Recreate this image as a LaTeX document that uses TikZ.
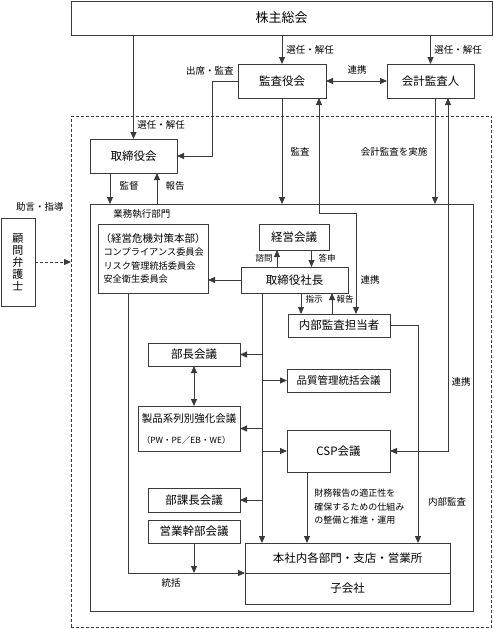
\documentclass[tikz,border=0pt]{standalone}
\usepackage{fontspec}
\setmainfont{Noto Sans CJK JP}
\usetikzlibrary{arrows.meta}
\definecolor{Line}{HTML}{3A3A3A}

\begin{document}
\begin{tikzpicture}[x=1pt,y=-1pt,line width=0.9pt,
        box/.style={draw=Line, inner sep=0pt, outer sep=0pt, align=center, font=\fontsize{11.5}{14}\selectfont},
        lbl/.style={inner sep=0pt, font=\fontsize{9.5}{12}\selectfont},
        arr/.style={draw=Line, -{Triangle[length=7pt,width=6pt]}},
        biarr/.style={draw=Line, {Triangle[length=7pt,width=6pt]}-{Triangle[length=7pt,width=6pt]}}]
        \useasboundingbox (0,0) rectangle (493,629);
        % frames
        \node[draw=Line, dash pattern=on 3pt off 2pt, minimum width=420.5, minimum height=511.5, outer sep=0pt] (grp) at (281.25,371.75) {};
        \node[draw=Line, minimum width=383, minimum height=407, outer sep=0pt] (gyomu) at (281.5,407.5) {};
        \node[lbl, anchor=west] (gyomulbl) at (113,214) {業務執行部門};
        % boxes
        \node[box, minimum width=421, minimum height=34, font=\fontsize{13}{15}\selectfont] (soukai) at (281.5,18) {株主総会};
        \node[box, minimum width=88, minimum height=34] (kansayaku) at (282,81) {監査役会};
        \node[box, minimum width=87, minimum height=34] (kaikei) at (430.5,81) {会計監査人};
        \node[box, minimum width=87, minimum height=34] (torishimari) at (133.5,156) {取締役会};
        \node[box, minimum width=34, minimum height=88, font=\fontsize{11}{12}\selectfont] (komon) at (18,262) {顧\\問\\弁\\護\\士};
        \node[box, minimum width=110, minimum height=69, align=left, font=\fontsize{9.2}{13.5}\selectfont] (kiki) at (153,258.5)
                {{\fontsize{10.5}{13}\selectfont（経営危機対策本部）}\\\hspace{3pt}コンプライアンス委員会\\\hspace{3pt}リスク管理統括委員会\\\hspace{3pt}安全衛生委員会};
        \node[box, minimum width=70, minimum height=26] (keiei) at (294,237) {経営会議};
        \node[box, minimum width=107, minimum height=26] (shacho) at (294.5,280) {取締役社長};
        \node[box, minimum width=102, minimum height=23] (naibu) at (339,325.5) {内部監査担当者};
        \node[box, minimum width=92, minimum height=23] (buchou) at (194,354.5) {部長会議};
        \node[box, minimum width=103, minimum height=23, font=\fontsize{10.5}{13}\selectfont] (hinshitsu) at (338.5,380.5) {品質管理統括会議};
        \node[box, minimum width=102, minimum height=45, align=left, font=\fontsize{10.5}{21}\selectfont] (seihin) at (189,428.5)
                {製品系列別強化会議\\{\fontsize{8.5}{10}\selectfont（PW・PE／EB・WE）}};
        \node[box, minimum width=103, minimum height=42] (csp) at (338.5,451) {CSP会議};
        \node[box, minimum width=92, minimum height=24] (bukacho) at (194,500) {部課長会議};
        \node[box, minimum width=92, minimum height=23] (eigyo) at (194,531.5) {営業幹部会議};
        \node[box, minimum width=205, minimum height=30] (honsha) at (347.5,558) {本社内各部門・支店・営業所};
        \node[box, minimum width=205, minimum height=31] (kogaisha) at (347.5,588.5) {子会社};
        % top level
        \draw[arr] (torishimari.north |- soukai.south) -- (torishimari.north);
        \draw[arr] (soukai.south -| kansayaku.north) -- (kansayaku.north);
        \draw[arr] (soukai.south -| kaikei.north) -- (kaikei.north);
        \node[lbl, anchor=west] (l1) at (137,125) {選任・解任};
        \node[lbl, anchor=west] (l2) at (286,50) {選任・解任};
        \node[lbl, anchor=west] (l3) at (434,50) {選任・解任};
        \draw[biarr] (kansayaku.east) -- (kaikei.west);
        \node[lbl] (l4) at (357,70) {連携};
        \draw[arr] (kansayaku.west) -- (212,81) |- (torishimari.east);
        \node[lbl, anchor=east] (l5) at (234,71) {出席・監査};
        \draw[arr] ([xshift=-23.5pt]torishimari.south) -- ([xshift=-23.5pt]torishimari.south |- gyomu.north);
        \draw[arr] ([xshift=23.5pt]torishimari.south |- gyomu.north) -- ([xshift=23.5pt]torishimari.south);
        \node[lbl] (l6) at (129,186) {監督};
        \node[lbl] (l7) at (175,186) {報告};
        \draw[arr] (kansayaku.south) -- (kansayaku.south |- gyomu.north);
        \node[lbl] (l8) at (300,152) {監査};
        \draw[biarr] ([xshift=37pt]kansayaku.south) -- ++(0,115) -| ([xshift=17pt]naibu.north);
        \node[lbl] (l9) at (370,280) {連携};
        \draw[arr] ([xshift=4.5pt]kaikei.south) -- ([xshift=4.5pt]kaikei.south |- gyomu.north);
        \node[lbl] (l10) at (394,152) {会計監査を実施};
        \draw[biarr] ([xshift=17.5pt]kaikei.south) |- (csp.east);
        \node[lbl] (l11) at (461,382) {連携};
        % president
        \draw[arr] ([xshift=-17.5pt]shacho.north) -- ([xshift=-17.5pt]shacho.north |- keiei.south);
        \draw[arr] ([xshift=17.5pt]keiei.south) -- ([xshift=17.5pt]keiei.south |- shacho.north);
        \node[lbl, font=\fontsize{8.5}{10}\selectfont] (l12) at (264,258) {諮問};
        \node[lbl, font=\fontsize{8.5}{10}\selectfont] (l13) at (327,258) {答申};
        \draw[arr] ([xshift=6.5pt]shacho.south) -- ([xshift=6.5pt]shacho.south |- naibu.north);
        \draw[arr] ([xshift=37.5pt]shacho.south |- naibu.north) -- ([xshift=37.5pt]shacho.south);
        \node[lbl, font=\fontsize{8.5}{10}\selectfont] (l14) at (314,299) {指示};
        \node[lbl, font=\fontsize{8.5}{10}\selectfont] (l15) at (345,299) {報告};
        \draw[arr] (shacho.west) -- (kiki.east |- shacho.west);
        % trunk
        \coordinate (trunk) at ([xshift=-32.5pt]shacho.south);
        \draw[arr] (trunk) -- (trunk |- honsha.north);
        \draw[arr] (trunk |- buchou.east) -- (buchou.east);
        \draw[arr] (trunk |- hinshitsu.west) -- (hinshitsu.west);
        \draw[arr] (trunk |- seihin.east) -- (seihin.east);
        \draw[arr] (trunk |- csp.west) -- (csp.west);
        \draw[arr] (trunk |- bukacho.east) -- (bukacho.east);
        \draw[biarr] (buchou.south) -- (buchou.south |- seihin.north);
        \draw[arr] (naibu.east) -| ([xshift=70.5pt]honsha.north);
        \node[lbl] (l16) at (447,502) {内部監査};
        \draw[arr] ([xshift=-31.5pt]csp.south) -- ([xshift=-31.5pt]csp.south |- honsha.north);
        \node[lbl, anchor=west, align=left, font=\fontsize{9}{13.5}\selectfont] (l17) at (314,507)
                {財務報告の適正性を\\確保するための仕組み\\の整備と推進・運用};
        \draw[arr] ([xshift=-25pt]kiki.south) |- (honsha.south west);
        \draw[arr] (eigyo.south) -- (eigyo.south |- honsha.south);
        \node[lbl] (l18) at (171,583) {統括};
        % adviser
        \draw[arr, dash pattern=on 3pt off 2pt] (komon.east) -- (komon.east -| grp.west);
        \node[lbl] (l19) at (40,207) {助言・指導};
\end{tikzpicture}
\end{document}
